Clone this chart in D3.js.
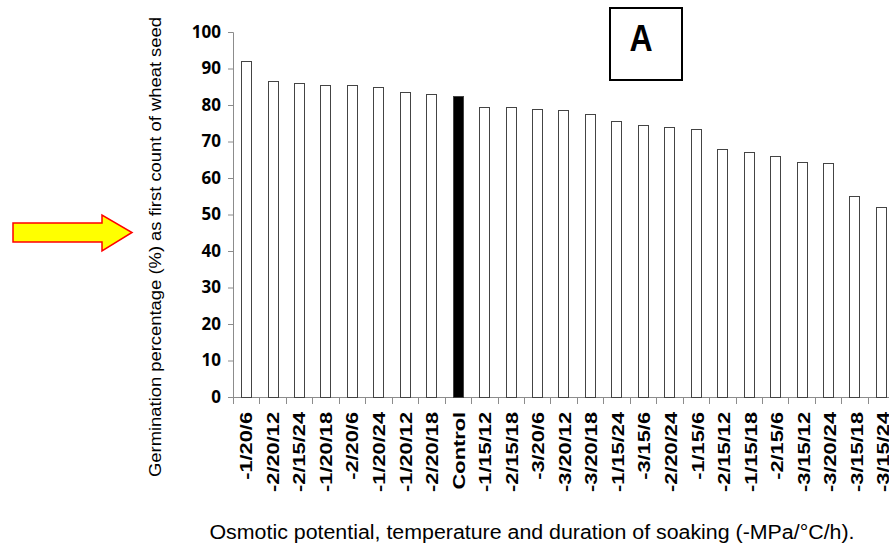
<!DOCTYPE html>
<html>
<head>
<meta charset="utf-8">
<script src="https://cdn.jsdelivr.net/npm/d3@7"></script>
<style>
  body { margin: 0; background: #fff; }
  svg { display: block; }
</style>
</head>
<body>
<div id="chart"></div>
<script>
// --- Data ---
const treatments = [
  '-1/20/6', '-2/20/12', '-2/15/24', '-1/20/18', '-2/20/6', '-1/20/24', '-1/20/12', '-2/20/18',
  'Control', '-1/15/12', '-2/15/18', '-3/20/6', '-3/20/12', '-3/20/18', '-1/15/24', '-3/15/6',
  '-2/20/24', '-1/15/6', '-2/15/12', '-1/15/18', '-2/15/6', '-3/15/12', '-3/20/24', '-3/15/18', '-3/15/24'
];
const germination = [
  92, 86.5, 86, 85.5, 85.5, 85, 83.5, 83,
  82.5, 79.5, 79.5, 79, 78.5, 77.5, 75.5, 74.5,
  74, 73.5, 68, 67, 66, 64.5, 64, 55, 52
];
const yTicks = [0, 10, 20, 30, 40, 50, 60, 70, 80, 90, 100];

const rows = treatments.map((t, i) => ({ label: t, value: germination[i] }));

const w = 889, h = 546;
const x0 = 233, y0 = 397, yTop = 32;
const step = 26.45;

const svg = d3.select('#chart').append('svg')
  .attr('width', w)
  .attr('height', h);

const x = d3.scaleBand()
  .domain(treatments)
  .range([x0, x0 + step * treatments.length])
  .paddingInner(0.61)
  .paddingOuter(0.305);

const y = d3.scaleLinear().domain([0, 100]).range([y0, yTop]);

// Y axis
const yAxis = svg.append('g')
  .attr('transform', `translate(${x0},0)`)
  .call(d3.axisLeft(y).tickValues(yTicks).tickSize(5).tickPadding(7));
yAxis.select('.domain').attr('stroke', '#8c8c8c');
yAxis.selectAll('.tick line').attr('stroke', '#8c8c8c');
yAxis.selectAll('.tick text')
  .attr('font-family', '"Open Sans", sans-serif')
  .attr('font-weight', 'bold')
  .attr('font-size', 17)
  .attr('fill', '#000');

// X axis line and boundary ticks
svg.append('line')
  .attr('x1', x0).attr('x2', w)
  .attr('y1', y0 + 0.5).attr('y2', y0 + 0.5)
  .attr('stroke', '#8c8c8c');
const bounds = d3.range(treatments.length + 1).map(i => x0 + i * x.step());
svg.selectAll('.xtick')
  .data(bounds)
  .enter().append('line')
  .attr('class', 'xtick')
  .attr('x1', d => Math.round(d) + 0.5).attr('x2', d => Math.round(d) + 0.5)
  .attr('y1', y0).attr('y2', y0 + 7)
  .attr('stroke', '#8c8c8c');

// Bars
svg.selectAll('.bar')
  .data(rows)
  .enter().append('rect')
  .attr('class', 'bar')
  .attr('x', d => Math.round(x(d.label)) + 0.5)
  .attr('y', d => Math.round(y(d.value)) + 0.5)
  .attr('width', Math.round(x.bandwidth()))
  .attr('height', d => y0 - Math.round(y(d.value)))
  .attr('fill', d => d.label === 'Control' ? '#000' : '#fff')
  .attr('stroke', '#444')
  .attr('stroke-width', 1);

// X tick labels, rotated (labels drift slightly right of bars, as in the original)
svg.selectAll('.xlabel')
  .data(treatments)
  .enter().append('text')
  .attr('class', 'xlabel')
  .attr('transform', (d, i) => `translate(${x(d) + x.bandwidth() / 2 + 6 + 0.1 * i},412) rotate(-90) scale(1.32,1)`)
  .attr('text-anchor', 'end')
  .attr('font-family', '"Liberation Sans", Arial, sans-serif')
  .attr('font-weight', 'bold')
  .attr('font-size', 16.5)
  .text(d => d);

// Y axis title
svg.append('text')
  .attr('transform', 'translate(161,247) rotate(-90)')
  .attr('text-anchor', 'middle')
  .attr('font-family', '"Liberation Sans", Arial, sans-serif')
  .attr('font-size', 16)
  .attr('textLength', 460)
  .attr('lengthAdjust', 'spacingAndGlyphs')
  .text('Germination percentage (%) as first count of wheat seed');

// X axis title
svg.append('text')
  .attr('x', 532)
  .attr('y', 539)
  .attr('text-anchor', 'middle')
  .attr('font-family', '"Liberation Sans", Arial, sans-serif')
  .attr('font-size', 20)
  .attr('textLength', 645)
  .attr('lengthAdjust', 'spacingAndGlyphs')
  .text('Osmotic potential, temperature and duration of soaking (-MPa/°C/h).');

// Panel label box
svg.append('rect')
  .attr('x', 610).attr('y', 8)
  .attr('width', 72).attr('height', 72)
  .attr('fill', '#fff')
  .attr('stroke', '#000')
  .attr('stroke-width', 2);
svg.append('text')
  .attr('transform', 'translate(641,51) scale(1,1.13)')
  .attr('text-anchor', 'middle')
  .attr('font-family', '"Liberation Sans", Arial, sans-serif')
  .attr('font-weight', 'bold')
  .attr('font-size', 32)
  .text('A');

// Yellow arrow pointing at the axis title
const arrow = d3.path();
arrow.moveTo(13, 223);
arrow.lineTo(102, 223);
arrow.lineTo(102, 215);
arrow.lineTo(132, 232.5);
arrow.lineTo(102, 251);
arrow.lineTo(102, 242);
arrow.lineTo(13, 242);
arrow.closePath();
svg.append('path')
  .attr('d', arrow.toString())
  .attr('fill', '#ffff00')
  .attr('stroke', '#ff0000')
  .attr('stroke-width', 1.5);
</script>
</body>
</html>
